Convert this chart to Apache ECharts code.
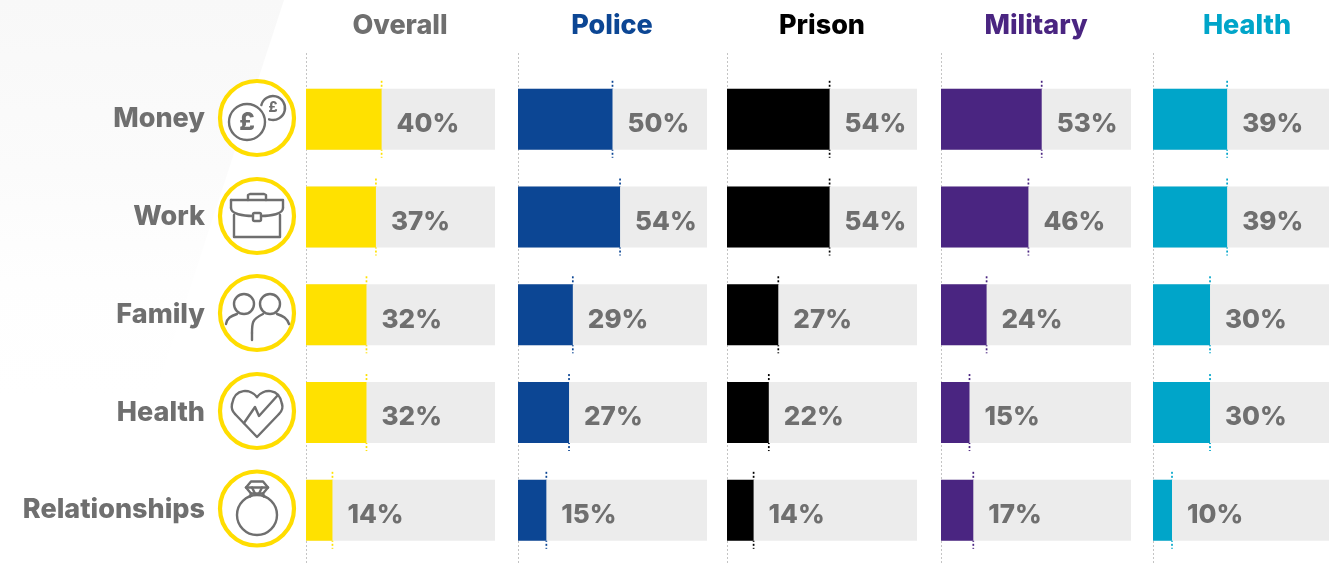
<!DOCTYPE html>
<html><head><meta charset="utf-8">
<style>html,body{margin:0;padding:0;background:#fff}#c{width:1329px;height:564px}</style>
<script src="https://cdn.jsdelivr.net/npm/echarts@6/dist/echarts.min.js"></script>
</head><body><div id="c"></div>
<script>
const categories = ['Money','Work','Family','Health','Relationships'];
const panelNames = ['Overall','Police','Prison','Military','Health'];
const overall  = [40,37,32,32,14];
const police   = [50,54,29,27,15];
const prison   = [54,54,27,22,14];
const military = [53,46,24,15,17];
const health   = [39,39,30,30,10];
const panelValues = [overall,police,prison,military,health];
const panelColors = ['#ffe100','#0c4694','#000000','#4a2581','#00a5c9'];
const titleColors = ['#6f6f6f','#0c4694','#000000','#4a2581','#00a5c9'];
const panelLefts = [306,518,727,941,1153];
const panelWidths = [189,189,190,190,176];
const panelMax = [100,100,100,100,92.6];
const panelCentres = [400,612,822,1036,1247];

const FONT = 'Inter, "Open Sans", sans-serif';
const GREY = '#6f6f6f';
const top0 = 70.4, bottom0 = 4.8, barW = 61, tickOver = 8;

const grids=[],xAxes=[],yAxes=[],series=[],titles=[];
panelNames.forEach((n,i)=>{
  grids.push({left:panelLefts[i],width:panelWidths[i],top:top0,bottom:bottom0,containLabel:false});
  xAxes.push({type:'value',gridIndex:i,min:0,max:panelMax[i],show:false,splitLine:{show:false}});
  yAxes.push({type:'category',gridIndex:i,inverse:true,data:categories,
    axisLine:{show:false},axisTick:{show:false},
    axisLabel:i===0?{show:true,margin:101,color:GREY,fontFamily:FONT,fontWeight:800,fontSize:27,verticalAlign:'middle',padding:[0,0,4,0]}:{show:false}});
  titles.push({text:n,left:panelCentres[i],top:26,padding:0,textAlign:'center',textVerticalAlign:'middle',
    textStyle:{color:titleColors[i],fontFamily:FONT,fontWeight:800,fontSize:27}});
  series.push({type:'custom',xAxisIndex:i,yAxisIndex:i,z:1,clip:false,silent:true,
    encode:{x:0,y:1},
    data:panelValues[i].map((v,k)=>[v,k]),
    renderItem:(p,api)=>{
      const c=api.coord([api.value(0),api.value(1)]);
      return {type:'line',shape:{x1:c[0],y1:c[1]-barW/2-tickOver,x2:c[0],y2:c[1]+barW/2+tickOver},
        style:{stroke:panelColors[i],lineWidth:1.7,lineDash:[2,2],fill:null}};
    }});
  series.push({type:'bar',xAxisIndex:i,yAxisIndex:i,z:2,barWidth:barW,data:panelValues[i],
    itemStyle:{color:panelColors[i]},
    showBackground:true,backgroundStyle:{color:'#ececec'},
    label:{show:true,position:'right',distance:15,offset:[0,5],formatter:'{c}%',color:GREY,
      fontFamily:FONT,fontWeight:800,fontSize:26}});
});

// decoration: background wedge, dotted baselines, icon badges
const graphic=[];
graphic.push({type:'polygon',z:-10,shape:{points:[[0,0],[284,0],[100,564],[0,564]]},
  style:{fill:{type:'linear',x:0,y:0,x2:0,y2:1,colorStops:[{offset:0,color:'#f8f8f8'},{offset:.3,color:'#fbfbfb'},{offset:.5,color:'#fefefe'},{offset:.7,color:'#ffffff'}]}}});
panelLefts.forEach(x=>graphic.push({type:'line',z:-5,shape:{x1:x+.5,y1:53,x2:x+.5,y2:564},
  style:{stroke:'#c4c4c4',lineWidth:1,lineDash:[2,2]}}));
const stk={stroke:GREY,lineWidth:2.4,fill:null,lineCap:'round',lineJoin:'round'};
const ln=(pts)=>({type:'polyline',shape:{points:pts},style:stk});
const bz=(a,b,c,d)=>({type:'bezierCurve',shape:{x1:a[0],y1:a[1],cpx1:b[0],cpy1:b[1],cpx2:c[0],cpy2:c[1],x2:d[0],y2:d[1]},style:stk});
const circ=(x,y,r)=>({type:'circle',shape:{cx:x,cy:y,r},style:stk});
const pound=(x,y,s)=>({type:'text',x,y,style:{text:'£',fill:GREY,font:`800 ${s}px ${FONT}`,textAlign:'center',textVerticalAlign:'middle'}});
const cy=[118,216,313,411,508.5], cx=257;
const icons=[
  [circ(-10,4,18),pound(-10,5,24),
   {type:'arc',shape:{cx:16,cy:-10,r:12,startAngle:-2.9,endAngle:1.9},style:stk},pound(16,-10,14)],
  [ln([[-26,-16],[26,-16],[26,-8]]),ln([[-26,-16],[-26,-8]]),
   bz([-26,-8],[-26,-2],[-14,0],[-4,0]),bz([26,-8],[26,-2],[14,0],[4,0]),
   ln([[-23,-1],[-23,21],[23,21],[23,-1]]),
   ln([[-9,-16],[-9,-21],[-7,-22],[7,-22],[9,-21],[9,-16]]),
   {type:'rect',shape:{x:-4,y:-3,width:8,height:8,r:1.5},style:stk}],
  [circ(-13,-9,10),circ(13,-9,10),
   bz([-31,11],[-30,5],[-26,3],[-20,1]),
   bz([-5,20],[-5,10],[-5,6],[6,1]),ln([[-5,20],[-5,27]]),
   bz([20,1],[26,3],[30,5],[32,11])],
  [bz([0,-14],[-6,-22],[-22,-24],[-25,-7]),bz([-25,-7],[-26,-2],[-24,1],[-22,3]),
   ln([[-22,3],[0,26],[22,3]]),bz([22,3],[26,-1],[26,-4],[25,-7]),bz([25,-7],[22,-24],[6,-22],[0,-14]),
   ln([[-13,12],[-2,-4],[2,5],[21,-16]])],
  [circ(0,6.5,20),
   ln([[-11,-21],[-6,-27],[6,-27],[11,-21],[6,-15],[-6,-15],[-11,-21]]),
   ln([[-11,-21],[11,-21]]),ln([[-5,-21],[-2,-15]]),ln([[5,-21],[2,-15]]),
   ln([[-6,-15],[-7,-12]]),ln([[6,-15],[7,-12]])]
];
cy.forEach((y,i)=>{
  graphic.push({type:'circle',z:3,shape:{cx,cy:y,r:37},style:{fill:'#fff',stroke:'#ffdd00',lineWidth:4.2}});
  graphic.push({type:'group',x:cx,y:y,z:4,children:icons[i].map(e=>Object.assign({z:4},e))});
});

const chart=echarts.init(document.getElementById('c'),null,{renderer:'canvas',width:1329,height:564});
chart.setOption({animation:false,backgroundColor:'#fff',title:titles,grid:grids,xAxis:xAxes,yAxis:yAxes,series,graphic:{elements:graphic}});
</script></body></html>
